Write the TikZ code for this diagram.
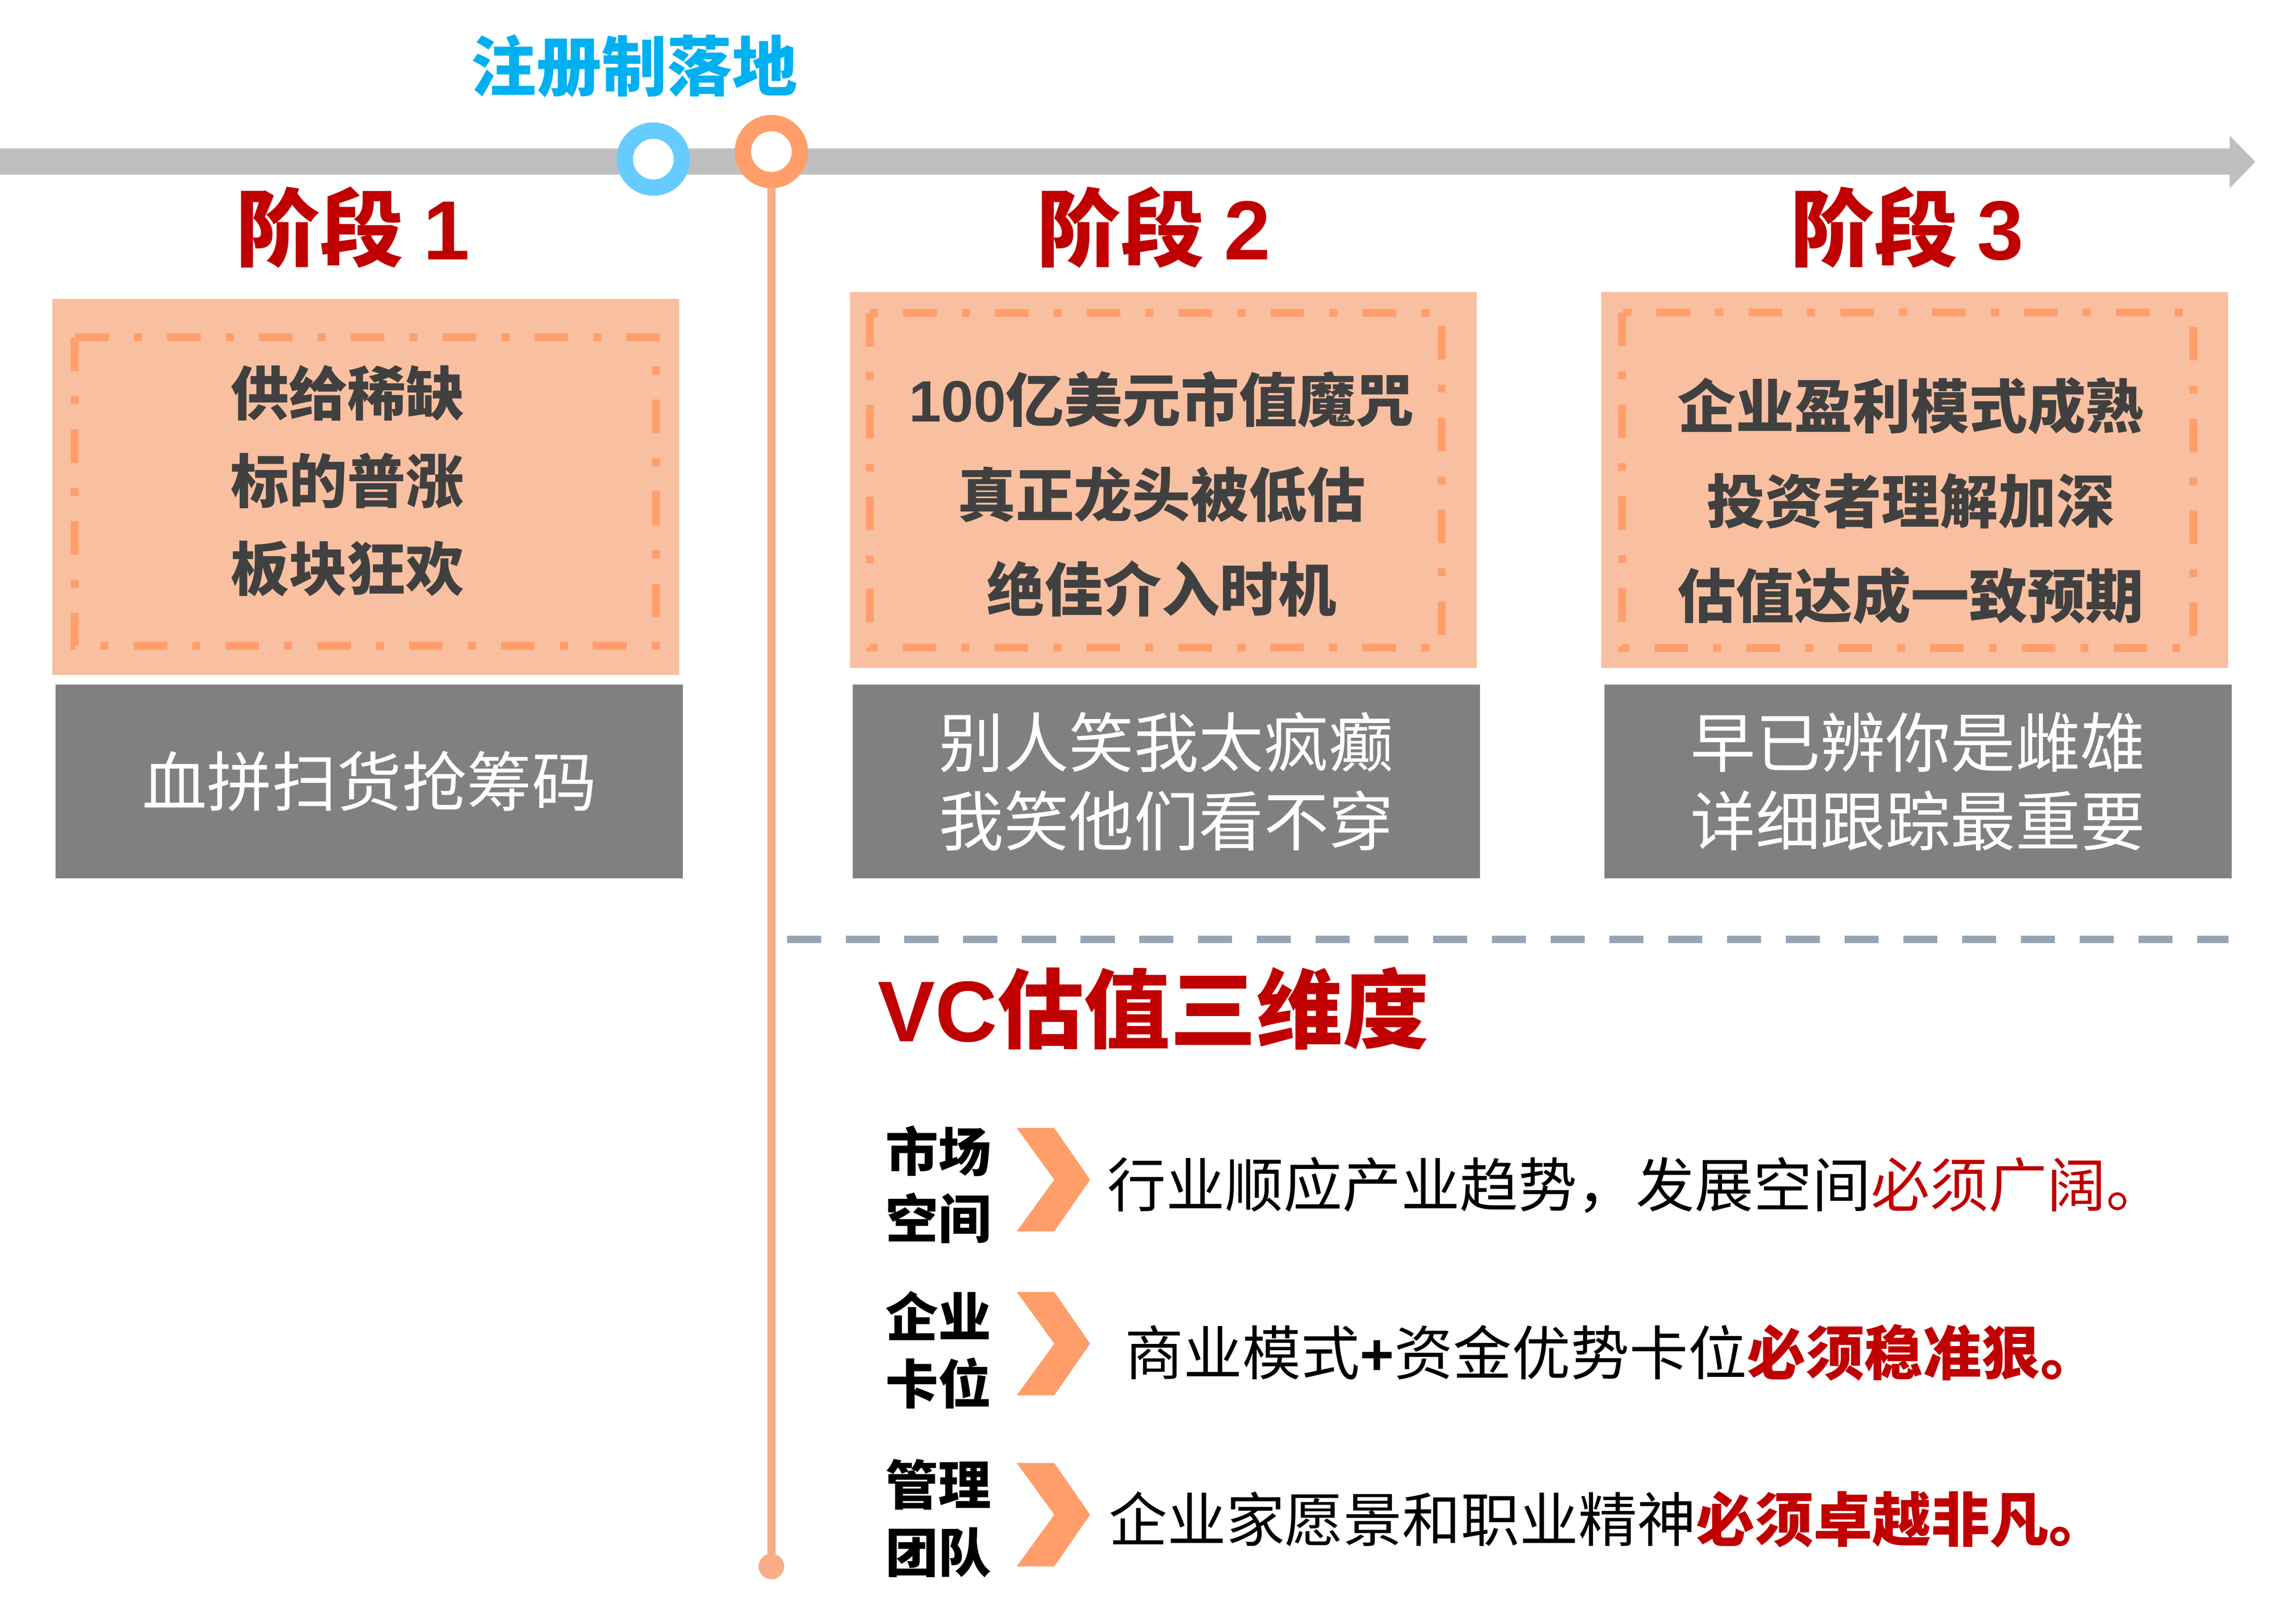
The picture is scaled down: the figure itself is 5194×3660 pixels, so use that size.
\documentclass[tikz,border=0pt]{standalone}
\usepackage{fontspec}
\setmainfont{Noto Sans CJK SC}
\newfontfamily\lat{Liberation Sans}
\usetikzlibrary{positioning, calc}

\definecolor{timegray}{RGB}{191,191,191}
\definecolor{ringblue}{RGB}{102,204,255}
\definecolor{ringorange}{RGB}{255,158,106}
\definecolor{lineorange}{RGB}{247,174,134}
\definecolor{boxorange}{RGB}{248,191,160}
\definecolor{boxgray}{RGB}{128,128,128}
\definecolor{txtgray}{RGB}{64,64,64}
\definecolor{vcred}{RGB}{192,0,0}
\definecolor{regblue}{RGB}{0,176,240}
\definecolor{dashgray}{RGB}{151,164,178}

\begin{document}
\begin{tikzpicture}[
      x=0.01cm, y=-0.01cm,
      every node/.style={inner sep=0pt, align=center},
      stagebox/.style={rectangle, fill=boxorange,
                    minimum width=14.17cm, minimum height=8.5cm},
      graybox/.style={rectangle, fill=boxgray, text=white,
                    minimum width=14.18cm, minimum height=4.38cm,
                    font=\fontsize{41.8pt}{50.6pt}\selectfont},
      frame/.style={draw=ringorange, line width=5.1pt,
                    dash pattern=on 21.6pt off 16.2pt on 5.1pt off 16.2pt},
      stagetitle/.style={text=vcred, font=\bfseries\fontsize{54pt}{60pt}\selectfont},
      boxtext/.style={text=txtgray, font=\bfseries\fontsize{37.5pt}{61pt}\selectfont},
      ring/.style={fill=white, line width=10.5pt},
      chevron/.style={fill=ringorange},
      rowlabel/.style={font=\bfseries\fontsize{34pt}{43.2pt}\selectfont},
      rowtext/.style={anchor=west, font=\fontsize{37.8pt}{45pt}\selectfont}
    ]
        \useasboundingbox (0,0) rectangle (5194,3660);
        % timeline
        \fill[timegray] (0,336) -- (5044,336) -- (5044,307) -- (5102,366)
            -- (5044,426) -- (5044,395) -- (0,395) -- cycle;
        \coordinate (regpt) at (1478,360);
        \coordinate (launch) at (1745,343);
        \coordinate (lineend) at (1745,3544);
        \draw[lineorange, line width=5.4pt] (launch) -- (lineend);
        \fill[lineorange] (lineend) circle (29);
        \draw[ring, draw=ringblue] (regpt) circle (64.5);
        \draw[ring, draw=ringorange] (launch) circle (64.5);
        \node[text=regblue, font=\bfseries\fontsize{42pt}{48pt}\selectfont] (reg) at (1435,149) {注册制落地};

        % stages
        \node[stagetitle] (stage1) at (798,514) {阶段 {\lat 1}};
        \node[stagetitle] (stage2) at (2610,514) {阶段 {\lat 2}};
        \node[stagetitle] (stage3) at (4314,514) {阶段 {\lat 3}};
        \node[stagebox] (box1) at (827.5,1102) {};
        \node[stagebox] (box2) at (2631.5,1086) {};
        \node[stagebox] (box3) at (4331.5,1086) {};
        \draw[frame] ($(box1.north west)+(51,87)$) rectangle ($(box1.south east)+(-53,-67)$);
        \draw[frame] ($(box2.north west)+(46,48)$) rectangle ($(box2.south east)+(-80,-47)$);
        \draw[frame] ($(box3.north west)+(48,47)$) rectangle ($(box3.south east)+(-79,-46)$);
        \node[boxtext, font=\bfseries\fontsize{37.5pt}{56.3pt}\selectfont] (txt1) at ($(box1)+(-42,-14)$) {供给稀缺\\标的普涨\\板块狂欢};
        \node[boxtext] (txt2) at ($(box2)+(-4,32)$) {{\lat 100}亿美元市值魔咒\\真正龙头被低估\\绝佳介入时机};
        \node[boxtext] (txt3) at ($(box3)+(-9,47)$) {企业盈利模式成熟\\投资者理解加深\\估值达成一致预期};
        \node[graybox, below=0.2cm of box1, xshift=0.08cm] (gray1) {血拼扫货抢筹码};
        \node[graybox, below=0.36cm of box2, xshift=0.07cm] (gray2) {别人笑我太疯癫\\我笑他们看不穿};
        \node[graybox, below=0.36cm of box3, xshift=0.075cm] (gray3) {早已辨你是雌雄\\详细跟踪最重要};

        % VC valuation
        \coordinate (dashstart) at (1780,2125);
        \coordinate (dashend) at (5041,2125);
        \draw[dashgray, line width=4.8pt, dash pattern=on 21.9pt off 15.9pt] (dashstart) -- (dashend);
        \node[text=vcred, anchor=west, font=\bfseries\fontsize{55.5pt}{60pt}\selectfont] (vc) at (1985,2282) {{\lat VC}估值三维度};
        \foreach \ym in {2669,3040,3427}
            \fill[chevron] (2300,{\ym-117}) -- (2385,{\ym-117}) -- (2466,\ym)
                -- (2385,{\ym+117}) -- (2300,{\ym+117}) -- (2385,\ym) -- cycle;
        \node[rowlabel] (market) at (2123,2680) {市场\\空间};
        \node[rowlabel] (position) at (2123,3054) {企业\\卡位};
        \node[rowlabel] (team) at (2123,3435) {管理\\团队};
        \node[rowtext] (row1) at (2504,2681) {行业顺应产业趋势，发展空间\textcolor{vcred}{必须广阔。}};
        \node[rowtext] (row2) at (2544,3060) {商业模式{\lat\bfseries +}资金优势卡位\textcolor{vcred}{\bfseries 必须稳准狠。}};
        \node[rowtext] (row3) at (2507,3438) {企业家愿景和职业精神\textcolor{vcred}{\bfseries 必须卓越非凡。}};
    \end{tikzpicture}
\end{document}
